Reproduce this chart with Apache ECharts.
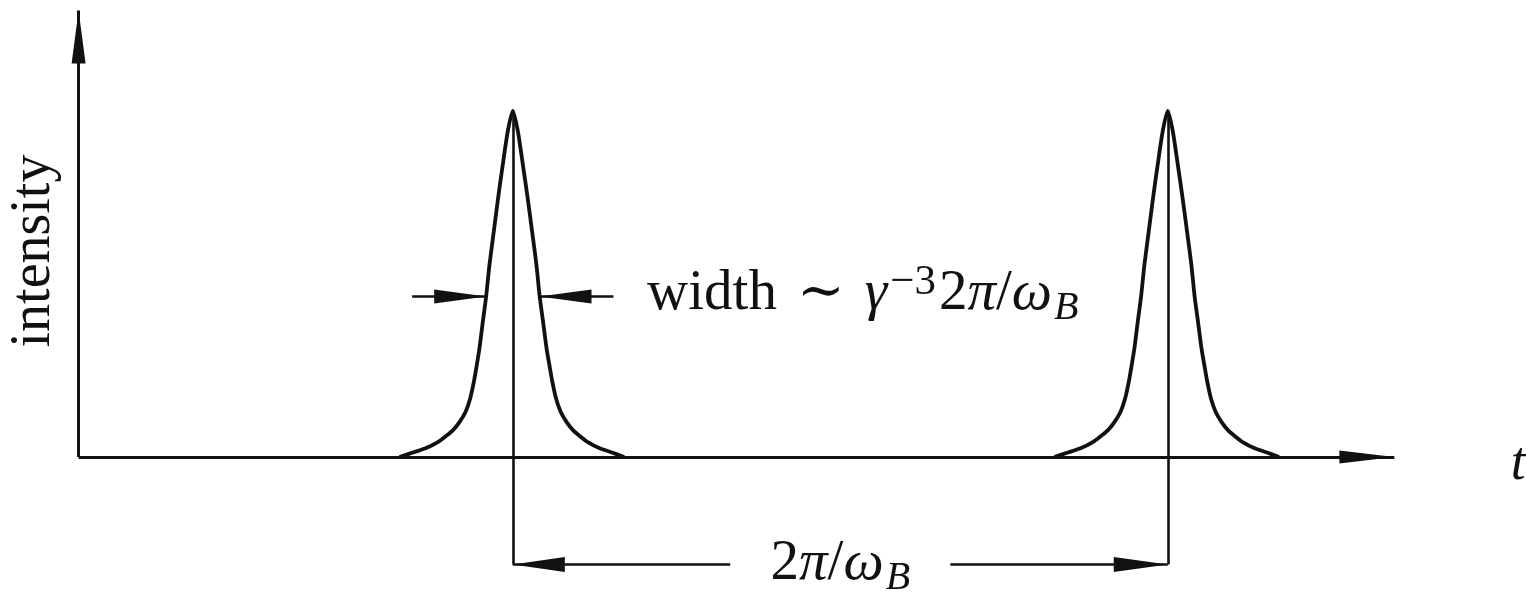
<!DOCTYPE html>
<html>
<head>
<meta charset="utf-8">
<script src="https://cdn.jsdelivr.net/npm/echarts@6/dist/echarts.min.js"></script>
<style>
  html, body { margin: 0; padding: 0; background: #ffffff; }
  #chart { width: 1526px; height: 599px; }
</style>
</head>
<body>
<div id="chart"></div>
<script>
// Time is measured in gyration periods (2π/ω_B = 1), intensity relative to the pulse peak.

// One synchrotron pulse: offset from the pulse centre and relative intensity
const pulseOffset = [
  -0.173, -0.1526, -0.1323, -0.1145, -0.1018, -0.0916, -0.0814, -0.0722,
  -0.0651, -0.0595, -0.055, -0.0509, -0.0458, -0.0407, -0.0356, -0.029,
  -0.0224, -0.0153, -0.0076, 0,
  0.0076, 0.0153, 0.0226, 0.0294, 0.036, 0.041, 0.0462, 0.0515,
  0.0558, 0.0604, 0.066, 0.0732, 0.0822, 0.0922, 0.1022, 0.1145,
  0.1318, 0.1515, 0.17
];
const pulseIntensity = [
  0, 0.013, 0.026, 0.043, 0.061, 0.077, 0.101, 0.130,
  0.169, 0.217, 0.266, 0.314, 0.391, 0.464, 0.556, 0.652,
  0.749, 0.845, 0.942, 1.0,
  0.942, 0.845, 0.749, 0.652, 0.556, 0.464, 0.391, 0.314,
  0.266, 0.217, 0.169, 0.130, 0.101, 0.077, 0.061, 0.043,
  0.026, 0.013, 0
];

// Pulse arrival times, one gyration period apart
const pulseCenters = [0.663, 1.663];

// Half-maximum marker: level and half width of the pulse there
const halfLevel = 0.464;
const halfWidth = 0.0407;
const widthArrowLength = 0.113;

// Axis extents and the period dimension line
const tAxisEnd = 2.009;
const intensityAxisEnd = 1.29;
const periodLineY = -0.31;
const periodLabelGap = 0.168;

// Label texts
const yAxisTitle = 'intensity';
const xAxisTitle = 't';

const INK = '#111111';
const SERIF = '"Liberation Serif", "DejaVu Serif", serif';

function pulseData(center) {
  return pulseOffset.map((d, i) => [center + d, pulseIntensity[i]]);
}

// A straight line with a long narrow arrowhead whose tip lands on `to`
function arrow(from, to, size, width) {
  return [
    { coord: from, symbol: 'none', lineStyle: width ? { width: width } : undefined },
    { coord: to, symbol: 'triangle', symbolSize: size, symbolOffset: [0, size[1] / 2] }
  ];
}
function plain(from, to) {
  return [
    { coord: from, symbol: 'none' },
    { coord: to, symbol: 'none' }
  ];
}

const c1 = pulseCenters[0];
const c2 = pulseCenters[1];
const mid = (c1 + c2) / 2;

const annotationLines = [
  // coordinate axes
  arrow([0, 0], [0, intensityAxisEnd], [14, 53], 3),
  arrow([0, 0], [tAxisEnd, 0], [13, 55], 3),
  // pulse centre markers, running down to the period dimension line
  plain([c1, 1.0], [c1, periodLineY]),
  plain([c2, 1.0], [c2, periodLineY]),
  // width arrows pointing at the pulse flanks
  arrow([c1 - halfWidth - widthArrowLength, halfLevel], [c1 - halfWidth, halfLevel], [14, 52]),
  arrow([c1 + halfWidth + widthArrowLength, halfLevel], [c1 + halfWidth, halfLevel], [14, 52]),
  // period dimension line
  arrow([mid - periodLabelGap, periodLineY], [c1, periodLineY], [15, 52]),
  arrow([mid + periodLabelGap, periodLineY], [c2, periodLineY], [15, 54])
];

const mathRich = {
  rm: { fontFamily: SERIF, fontSize: 57, color: INK, lineHeight: 76 },
  rmsp: { fontFamily: SERIF, fontSize: 57, color: INK, lineHeight: 76, padding: [0, 20, 0, 0] },
  it: { fontFamily: SERIF, fontStyle: 'italic', fontSize: 57, color: INK, lineHeight: 76 },
  sup: { fontFamily: SERIF, fontSize: 43, color: INK, lineHeight: 76, padding: [0, 3, 24, 3] },
  sub: { fontFamily: SERIF, fontStyle: 'italic', fontSize: 40, color: INK, lineHeight: 76, padding: [28, 0, 0, 2] }
};

const annotationTexts = [
  {
    coord: [-0.067, 0.595],
    label: {
      show: true, position: 'inside', rotate: 90, formatter: yAxisTitle,
      fontFamily: SERIF, fontSize: 56, color: INK
    }
  },
  {
    coord: [2.198, -0.0217],
    label: {
      show: true, position: 'inside', formatter: xAxisTitle,
      fontFamily: SERIF, fontStyle: 'italic', fontSize: 54, color: INK
    }
  },
  {
    coord: [c1 + 0.205, halfLevel + 0.006],
    label: {
      show: true, position: 'right', distance: 0,
      formatter: '{rmsp|width}{rmsp|∼}{it|γ}{sup|−3}{rm|2}{it|π}{rm|/}{it|ω}{sub|B}',
      rich: mathRich
    }
  },
  {
    coord: [mid, periodLineY],
    label: {
      show: true, position: 'inside',
      formatter: '{rm|2}{it|π}{rm|/}{it|ω}{sub|B}',
      rich: mathRich
    }
  }
];

const chart = echarts.init(document.getElementById('chart'), null, { renderer: 'canvas' });

chart.setOption({
  backgroundColor: '#ffffff',
  animation: false,
  grid: { left: 0, right: 0, top: 0, bottom: 0, containLabel: false },
  xAxis: {
    type: 'value', min: -0.12, max: 2.21, show: false
  },
  yAxis: {
    type: 'value', min: -0.41, max: 1.32, show: false
  },
  series: [
    {
      name: 'pulse 1',
      type: 'line',
      data: pulseData(c1),
      showSymbol: false,
      smooth: 0.25,
      silent: true,
      lineStyle: { color: INK, width: 3.8 },
      markLine: {
        silent: true,
        symbol: ['none', 'none'],
        label: { show: false },
        lineStyle: { color: INK, width: 2.6, type: 'solid' },
        emphasis: { disabled: true },
        data: annotationLines
      },
      markPoint: {
        silent: true,
        symbol: 'circle',
        symbolSize: 0,
        itemStyle: { color: 'rgba(0,0,0,0)' },
        data: annotationTexts
      }
    },
    {
      name: 'pulse 2',
      type: 'line',
      data: pulseData(c2),
      showSymbol: false,
      smooth: 0.25,
      silent: true,
      lineStyle: { color: INK, width: 3.8 }
    }
  ]
});
</script>
</body>
</html>
